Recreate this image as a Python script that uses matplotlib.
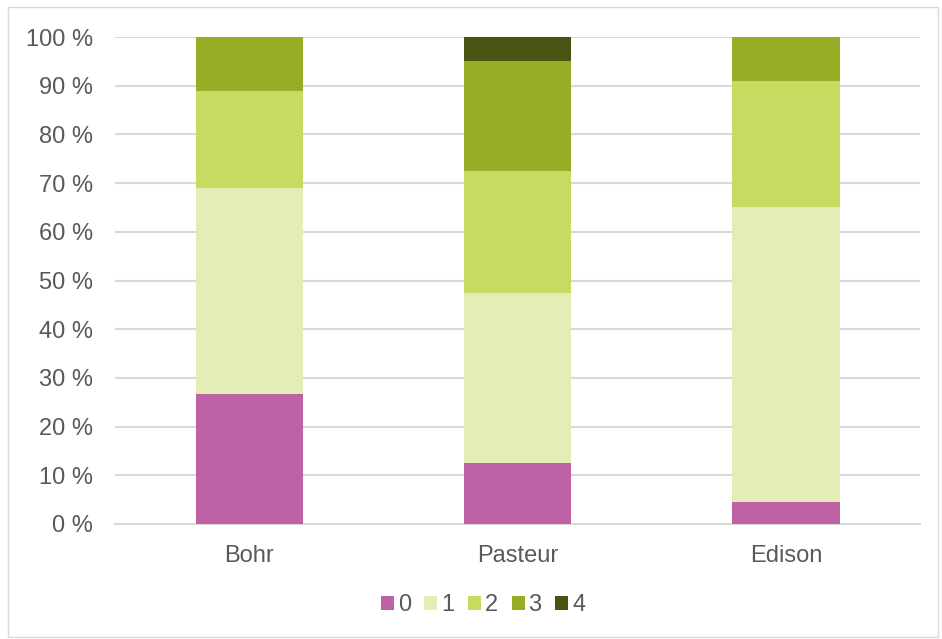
import matplotlib
matplotlib.use("Agg")
import matplotlib.pyplot as plt
from matplotlib.patches import Rectangle
import numpy as np

categories = ["Bohr", "Pasteur", "Edison"]
series_names = ["0", "1", "2", "3", "4"]
share_0 = [26.7, 12.5, 4.5]
share_1 = [42.2, 35.0, 60.6]
share_2 = [20.0, 25.0, 25.8]
share_3 = [11.1, 22.5, 9.1]
share_4 = [0.0, 5.0, 0.0]
yticks = [0, 10, 20, 30, 40, 50, 60, 70, 80, 90, 100]

colors = ["#BE61A5", "#E4EDB5", "#C6DC60", "#97AD26", "#4A5412"]
text_color = "#595959"
grid_color = "#D9D9D9"

plt.rcParams["font.family"] = ["Liberation Sans", "DejaVu Sans"]

fig = plt.figure(figsize=(9.42, 6.39), dpi=100)
ax = fig.add_axes([115 / 942, 1 - 524 / 639, (920 - 115) / 942, (524 - 37) / 639])

x = np.arange(len(categories))
bottom = np.zeros(len(categories))
for name, vals, col in zip(series_names, [share_0, share_1, share_2, share_3, share_4], colors):
    vals = np.array(vals)
    ax.bar(x, vals, width=0.4, bottom=bottom, color=col, label=name, zorder=3)
    bottom += vals

ax.set_xlim(-0.5, len(categories) - 0.5)
ax.set_ylim(0, 100)
ax.set_yticks(yticks)
ax.set_yticklabels([f"{v} %" for v in yticks])
ax.set_xticks(x)
ax.set_xticklabels(categories)
ax.tick_params(axis="both", length=0, labelsize=17, colors=text_color)
ax.tick_params(axis="y", pad=16)
ax.tick_params(axis="x", pad=15)
ax.yaxis.grid(True, color=grid_color, linewidth=1.5, zorder=0)
for side in ["top", "right", "left"]:
    ax.spines[side].set_visible(False)
ax.spines["bottom"].set_color(grid_color)
ax.spines["bottom"].set_linewidth(1.5)

leg = fig.legend(loc="center", bbox_to_anchor=(483 / 942, 1 - 605 / 639), ncol=5,
                 frameon=False, fontsize=17, handlelength=0.55, handleheight=0.55,
                 handletextpad=0.17, columnspacing=0.57)
for t in leg.get_texts():
    t.set_color(text_color)

fig.patches.append(Rectangle((8 / 942, 1 - 637 / 639), (938 - 8) / 942, (637 - 7) / 639,
                             transform=fig.transFigure, fill=False,
                             edgecolor=grid_color, linewidth=1.0))

fig.savefig("out.png", dpi=100)
